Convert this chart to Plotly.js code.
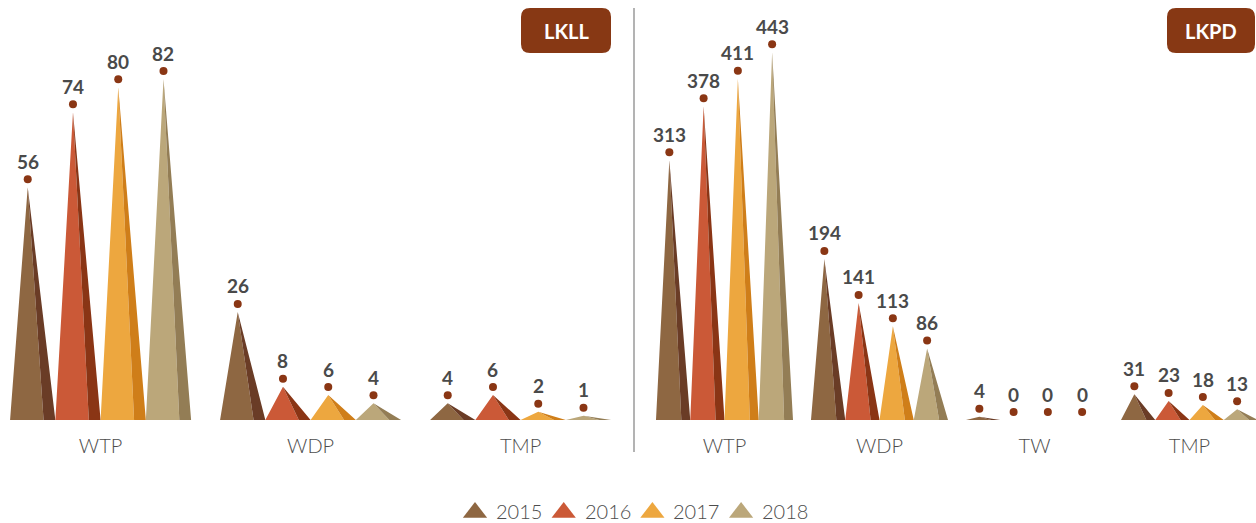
<!DOCTYPE html>
<html>
<head>
<meta charset="utf-8">
<script src="https://cdn.plot.ly/plotly-3.0.1.min.js"></script>
<style>html,body{margin:0;padding:0;background:#fff;}#chart{width:1256px;height:523px;}</style>
</head>
<body>
<div id="chart"></div>
<script>
// ---- data ----
const years = ['2015', '2016', '2017', '2018'];
const catsLKLL = ['WTP', 'WDP', 'TMP'];
const lkll2015 = [56, 26, 4];
const lkll2016 = [74, 8, 6];
const lkll2017 = [80, 6, 2];
const lkll2018 = [82, 4, 1];
const catsLKPD = ['WTP', 'WDP', 'TW', 'TMP'];
const lkpd2015 = [313, 194, 4, 31];
const lkpd2016 = [378, 141, 0, 23];
const lkpd2017 = [411, 113, 0, 18];
const lkpd2018 = [443, 86, 0, 13];

// ---- styles ----
const frontColors = ['#8E6742', '#CB5937', '#EDA73F', '#BBA77A'];
const sideColors  = ['#6A3C26', '#8A3515', '#CF7E19', '#937D55'];
const dotColor = '#8A3614';
const textColor = '#4A4A4A';
const labelColor = '#4D4D4D';
const FONT = 'Lato, "Open Sans", sans-serif';

const plotPx = 420;            // height of plot area in px
const yTopL = 101, yTopR = 506;
const panels = [
  {cats: catsLKLL, series: [lkll2015, lkll2016, lkll2017, lkll2018], xa: 'x', ya: 'y', w: 0.2155, yTop: yTopL},
  {cats: catsLKPD, series: [lkpd2015, lkpd2016, lkpd2017, lkpd2018], xa: 'x2', ya: 'y2', w: 0.221, yTop: yTopR}
];

const traces = [];
const annotations = [];
panels.forEach(p => {
  p.series.forEach((vals, j) => {
    const fx = [], fy = [], sx = [], sy = [], dx = [], dy = [];
    vals.forEach((v, i) => {
      const L = i - 2 * p.w + j * p.w;
      const apex = L + 0.39 * p.w;
      const mid = L + 0.74 * p.w;
      const R = L + p.w;
      fx.push(L, apex, mid, L, null); fy.push(0, v, 0, 0, null);
      sx.push(apex, mid, R, apex, null); sy.push(v, 0, 0, v, null);
      const off = 8 * p.yTop / plotPx;
      dx.push(apex); dy.push(v + off);
      annotations.push({xref: p.xa, yref: p.ya, x: apex, y: v, yshift: 26, text: String(v),
        xanchor: 'center', yanchor: 'middle',
        showarrow: false, font: {family: FONT, size: 19, color: textColor, weight: 700}});
    });
    traces.push({type: 'scatter', mode: 'lines', x: fx, y: fy, xaxis: p.xa, yaxis: p.ya, fill: 'toself',
      fillcolor: frontColors[j], line: {width: 0, color: frontColors[j]}, hoverinfo: 'skip', showlegend: false});
    traces.push({type: 'scatter', mode: 'lines', x: sx, y: sy, xaxis: p.xa, yaxis: p.ya, fill: 'toself',
      fillcolor: sideColors[j], line: {width: 0, color: sideColors[j]}, hoverinfo: 'skip', showlegend: false});
    traces.push({type: 'scatter', mode: 'markers', x: dx, y: dy, xaxis: p.xa, yaxis: p.ya,
      marker: {size: 8, color: dotColor}, hoverinfo: 'skip', showlegend: false, cliponaxis: false});
  });
});

// custom legend on a pixel-scaled overlay axis
const legX0 = 475, legStep = 88.7, legY = 512.5;
const lx = years.map((_, j) => legX0 + j * legStep);
traces.push({type: 'scatter', mode: 'markers', x: lx, y: years.map(() => legY), xaxis: 'x3', yaxis: 'y3',
  marker: {symbol: 'triangle-up', size: 21, color: frontColors}, hoverinfo: 'skip', showlegend: false, cliponaxis: false});
years.forEach((yr, j) => {
  annotations.push({xref: 'x3', yref: 'y3', x: lx[j] + 19, y: 511, text: yr, showarrow: false,
    xanchor: 'left', yanchor: 'middle', font: {family: FONT, size: 20, color: labelColor, weight: 300}});
});

annotations.push({xref: 'paper', yref: 'paper', x: 566 / 1256, y: 1 - 31 / 523, text: 'LKLL', showarrow: false,
  xanchor: 'center', yanchor: 'middle', font: {family: FONT, size: 20, color: '#fff', weight: 700}});
annotations.push({xref: 'paper', yref: 'paper', x: 1211 / 1256, y: 1 - 31 / 523, text: 'LKPD', showarrow: false,
  xanchor: 'center', yanchor: 'middle', font: {family: FONT, size: 20, color: '#fff', weight: 700}});

function rr(x0, x1, y0, y1, r) {
  return `M${x0 + r},${y0} L${x1 - r},${y0} Q${x1},${y0} ${x1},${y0 - r} L${x1},${y1 + r} Q${x1},${y1} ${x1 - r},${y1} ` +
         `L${x0 + r},${y1} Q${x0},${y1} ${x0},${y1 + r} L${x0},${y0 - r} Q${x0},${y0} ${x0 + r},${y0} Z`;
}
const shapes = [
  {type: 'path', xref: 'paper', yref: 'paper', xsizemode: 'pixel', ysizemode: 'pixel', xanchor: 0, yanchor: 1,
   path: rr(521, 611, -8, -53, 9), fillcolor: '#873814', line: {width: 0}},
  {type: 'path', xref: 'paper', yref: 'paper', xsizemode: 'pixel', ysizemode: 'pixel', xanchor: 0, yanchor: 1,
   path: rr(1167, 1255, -8, -53, 9), fillcolor: '#873814', line: {width: 0}},
  {type: 'line', xref: 'paper', yref: 'paper', x0: 634 / 1256, x1: 634 / 1256, y0: 1 - 452 / 523, y1: 1 - 8 / 523,
   line: {color: '#9A9A9A', width: 1.5}}
];

const axisCommon = {showgrid: false, zeroline: false, showline: false, fixedrange: true};
const tickFont = {family: FONT, size: 20, color: labelColor, weight: 300};
const layout = {
  width: 1256, height: 523,
  margin: {l: 0, r: 0, t: 0, b: 0},
  paper_bgcolor: '#fff', plot_bgcolor: 'rgba(0,0,0,0)',
  showlegend: false,
  xaxis: Object.assign({}, axisCommon, {domain: [0, 630 / 1256], range: [-0.479, 2.521],
    tickvals: [0, 1, 2], ticktext: catsLKLL, ticks: 'outside', ticklen: 8, tickcolor: 'rgba(0,0,0,0)',
    tickfont: tickFont}),
  yaxis: Object.assign({}, axisCommon, {domain: [103 / 523, 1], range: [0, yTopL], showticklabels: false}),
  xaxis2: Object.assign({}, axisCommon, {domain: [636 / 1256, 1], range: [-0.571, 3.429], anchor: 'y2',
    tickvals: [0, 1, 2, 3], ticktext: catsLKPD, ticks: 'outside', ticklen: 8, tickcolor: 'rgba(0,0,0,0)',
    tickfont: tickFont}),
  yaxis2: Object.assign({}, axisCommon, {domain: [103 / 523, 1], range: [0, yTopR], anchor: 'x2', showticklabels: false}),
  xaxis3: Object.assign({}, axisCommon, {domain: [0, 1], range: [0, 1256], anchor: 'y3', visible: false}),
  yaxis3: Object.assign({}, axisCommon, {domain: [0, 1], range: [523, 0], anchor: 'x3', visible: false}),
  annotations: annotations,
  shapes: shapes,
  hovermode: false
};
Plotly.newPlot('chart', traces, layout, {displayModeBar: false, staticPlot: true});
</script>
</body>
</html>
